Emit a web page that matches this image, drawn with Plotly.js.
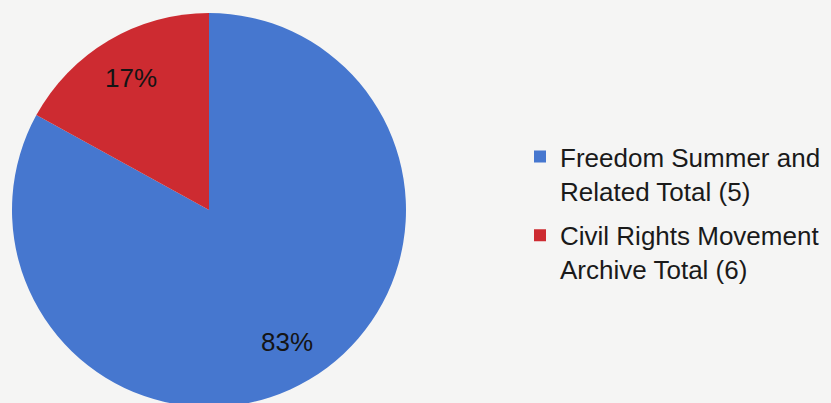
<!DOCTYPE html>
<html>
<head>
<meta charset="utf-8">
<script src="https://cdn.plot.ly/plotly-3.0.1.min.js"></script>
<style>
html,body{margin:0;padding:0;overflow:hidden;background:#f5f5f4;}
#chart{width:831px;height:410px;}
</style>
</head>
<body>
<div id="chart"></div>
<script>
const categories = ["Freedom Summer and<br>Related Total (5)", "Civil Rights Movement<br>Archive Total (6)"];
const values = [83, 17];
const colors = ["#4677cf", "#cd2b31"];

const W = 831, H = 410;
const M = {l: 0, r: 0, t: 13, b: 3};
const dom = [12 / W, 406 / W];
const FONT = "Liberation Sans, Arial, sans-serif";

const pie = {
  type: "pie",
  labels: categories,
  values: values,
  sort: false,
  direction: "clockwise",
  rotation: 0,
  marker: {colors: colors, line: {width: 0}},
  textinfo: "none",
  hoverinfo: "none",
  showlegend: false,
  domain: {x: dom, y: [0, 1]}
};

// legend entries (one per category, same colours as the slices)
const legendTraces = categories.map((c, i) => ({
  type: "scatter",
  mode: "markers",
  x: [null], y: [null],
  name: c,
  legendgroup: "g" + i,
  marker: {symbol: "square", size: 12, color: colors[i]},
  hoverinfo: "none",
  showlegend: true
}));

// percentage labels placed at each slice's mid-angle (computed from values)
const plotH = H - M.t - M.b;
const R = plotH / 2;
const cx = (dom[0] + dom[1]) / 2 * W;
const cy = M.t + R;
const total = values.reduce((a, b) => a + b, 0);
const labelRadius = 0.78;
let acc = 0;
const annotations = values.map(v => {
  const mid = (acc + v / 2) / total * 2 * Math.PI; // clockwise from 12 o'clock
  acc += v;
  const px = cx + Math.sin(mid) * R * labelRadius;
  const py = cy - Math.cos(mid) * R * labelRadius;
  return {
    xref: "paper", yref: "paper",
    x: px / W, y: 1 - (py - M.t) / plotH,
    xanchor: "center", yanchor: "middle",
    text: Math.round(v / total * 100) + "%",
    showarrow: false,
    font: {family: FONT, size: 26, color: "#141414"}
  };
});

const layout = {
  width: W, height: H,
  margin: M,
  paper_bgcolor: "#f5f5f4",
  plot_bgcolor: "rgba(0,0,0,0)",
  xaxis: {visible: false, range: [0, 1]},
  yaxis: {visible: false, range: [0, 1]},
  showlegend: true,
  annotations: annotations,
  legend: {
    x: 520 / W, y: 0.695, xanchor: "left", yanchor: "top",
    valign: "top",
    tracegroupgap: 8,
    font: {family: FONT, size: 26, color: "#1a1a1a"},
    bgcolor: "rgba(0,0,0,0)",
    itemwidth: 30
  }
};

Plotly.newPlot("chart", [pie].concat(legendTraces), layout, {displayModeBar: false, staticPlot: true});
</script>
</body>
</html>
